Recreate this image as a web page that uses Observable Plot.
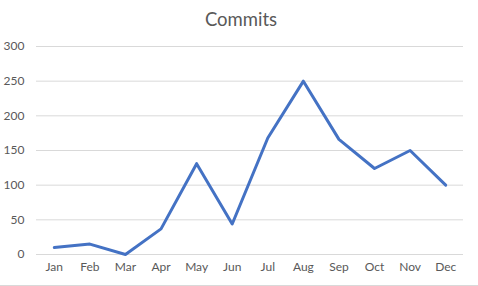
<!DOCTYPE html>
<html>
<head>
<meta charset="utf-8">
<script src="https://cdn.jsdelivr.net/npm/d3@7"></script>
<script src="https://cdn.jsdelivr.net/npm/@observablehq/plot@0.6"></script>
<style>
  html, body { margin: 0; padding: 0; background: #fff; }
  #wrap { width: 478px; height: 286px; position: relative; overflow: hidden; box-sizing: border-box; border-bottom: 1px solid #d9d9d9; }
  #title { height: 30px; line-height: 38px; text-align: center; font-family: Lato, "Open Sans", sans-serif; font-size: 18.5px; color: #595959; padding-left: 4px; position: relative; z-index: 1; }
  #chart { position: relative; }
</style>
</head>
<body>
<div id="wrap">
  <div id="title">Commits</div>
  <div id="chart"></div>
</div>
<script>
const months = ["Jan","Feb","Mar","Apr","May","Jun","Jul","Aug","Sep","Oct","Nov","Dec"];
const commits = [10, 15, 0, 37, 131, 44, 168, 250, 166, 124, 150, 100];
const yTicks = [0, 50, 100, 150, 200, 250, 300];

const data = months.map((m, i) => ({month: m, value: commits[i]}));

const chart = Plot.plot({
  width: 478,
  height: 255,
  marginTop: 16,
  marginBottom: 31,
  marginLeft: 36,
  marginRight: 15,
  style: {fontFamily: "Lato, 'Open Sans', sans-serif", fontSize: "12px", color: "#595959", background: "transparent"},
  x: {type: "point", domain: months, padding: 0.5, round: false, label: null, tickSize: 0, tickPadding: 8},
  y: {domain: [0, 300], ticks: yTicks, label: null, tickSize: 0, tickPadding: 12},
  marks: [
    Plot.gridY(yTicks, {stroke: "#d9d9d9", strokeOpacity: 1, strokeWidth: 1}),
    Plot.line(data, {x: "month", y: "value", stroke: "#4472C4", strokeWidth: 3, strokeLinejoin: "round", strokeLinecap: "round"})
  ]
});
document.getElementById("chart").appendChild(chart);
</script>
</body>
</html>
